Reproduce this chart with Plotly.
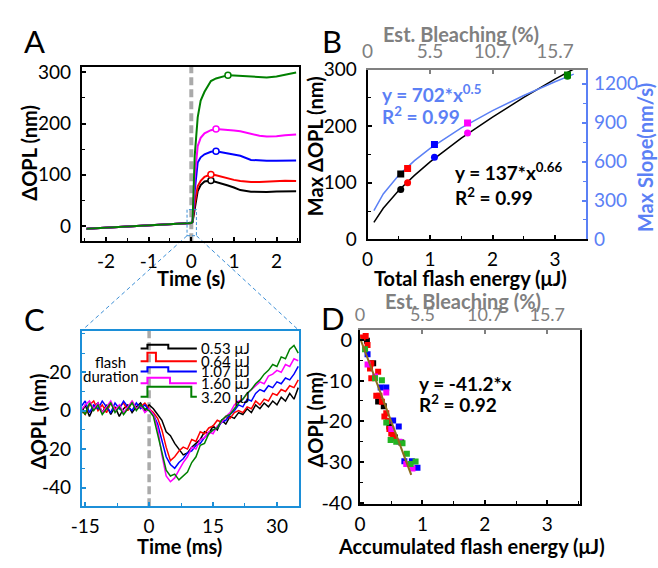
import plotly.graph_objects as go

W, H = 658, 568
FONT = "Lato"

# ---------------- colours of the five flashes ----------------
flash_labels = ["0.53 μJ", "0.64 μJ", "1.07 μJ", "1.60 μJ", "3.20 μJ"]
flash_colors = ["#000000", "#ff0000", "#0000ff", "#ff00ff", "#008000"]
d_colors = ["#000000", "#ff0000", "#0000ff", "#ff00ff", "#22b422"]
BLUE = "#5b80f5"
GRAY = "#808080"
FRAME = "#1c8fd8"

# ---------------- tick labels ----------------
a_xticks = [-2, -1, 0, 1, 2]
a_yticks = [0, 100, 200, 300]
b_xticks = [0, 1, 2, 3]
b_yticks = [0, 100, 200, 300]
b_y2ticks = [0, 300, 600, 900, 1200]
bleach_ticks = ["0", "5.5", "10.7", "15.7"]
c_xticks = [-15, 0, 15, 30]
c_yticks = [-40, -20, 0, 20]
d_xticks = [0, 1, 2, 3]
d_yticks = [-40, -30, -20, -10, 0]

# ---------------- Panel A data ----------------
t_a = [-2.46, -1.2, 0.0, 0.03, 0.08, 0.15, 0.22, 0.31, 0.46, 0.58, 0.7, 0.86, 1.0, 1.15, 1.4, 1.6, 1.77, 2.0, 2.2, 2.46]
a_black = [-5.6, -0.5, 5.6, 8, 37, 68, 80, 87, 88.7, 86, 84, 79, 75, 70, 67, 66, 66.5, 67.5, 68, 68]
a_red = [-5.6, -0.5, 5.6, 8, 43, 77.5, 88, 96, 100.7, 99, 96, 93, 90, 88, 86, 86, 87, 88, 88.5, 88]
a_blue = [-5.6, -0.5, 5.6, 8, 68, 124, 134, 140, 145, 146, 144, 141, 139, 137, 129, 128, 127.5, 127.5, 128, 128]
a_magenta = [-5.6, -0.5, 5.6, 8, 94, 156, 172, 181, 187, 189.5, 189, 187.5, 186.5, 185, 180, 176, 174.5, 175, 177, 178.8]
a_green = [-5.6, -0.5, 5.6, 8, 137, 212, 245, 262, 283, 288, 291, 294.5, 294, 293, 292, 291, 290, 292, 295, 299.6]
a_series = [a_black, a_red, a_blue, a_magenta, a_green]
peak_t = [0.46, 0.46, 0.58, 0.58, 0.86]
peak_v = [88.7, 100.7, 146, 189.5, 294.5]
zoom_box_t = [-0.1, 0.12]
zoom_box_v = [-19, 32]

# ---------------- Panel B data ----------------
energy = [0.53, 0.64, 1.07, 1.60, 3.20]
max_opl = [88, 100, 145, 188, 288]
max_slope = [504, 546, 732, 897, 1268]
fit_x = [0.1, 0.25, 0.5, 0.75, 1.0, 1.5, 2.0, 2.5, 3.0, 3.3]
fit_opl = [30, 55, 87, 113, 137, 179, 216, 251, 283, 301]
fit_slope = [222, 351, 496, 608, 702, 860, 993, 1110, 1216, 1275]

# ---------------- Panel C data ----------------
t_c = [-16, -15, -14, -13, -12, -11, -10, -9, -8, -7, -6, -5, -4, -3, -2, -1, 0, 1, 2, 3, 4, 5, 6, 7, 8, 9,
       10, 11, 12, 13, 14, 15, 16, 17, 18, 19, 20, 21, 22, 23, 24, 25, 26, 27, 28, 29, 30, 31, 32, 33, 34, 35]
c_black = [-2, 3, -3, 2, 4, -1, 3, -2, 2, -3, 1, 3, -1, 2, 4, 0, 3,
           1, -2, -5, -11, -13, -17, -20, -23, -22, -19, -17, -15, -11, -12, -8, -10, -5, -7, -3, -4,
           -1, -2, 1, -1, 3, 1, 4, 2, 5, 3, 7, 5, 9, 6, 12]
c_red = [1, -2, 3, 5, 0, 3, -1, 4, 1, 2, 4, 0, 5, 1, 2, 4, 1,
         -1, -4, -10, -19, -26, -24, -21, -19, -20, -15, -16, -11, -12, -9, -8, -5, -6, -3, -4, -1,
         0, -1, 2, 1, 5, 3, 6, 5, 9, 8, 11, 10, 13, 12, 16]
c_blue = [2, 5, -1, 3, 1, 5, 2, -1, 4, 1, 5, 2, 0, 4, 1, 3, 0,
          -2, -7, -15, -24, -28, -30, -27, -25, -22, -21, -18, -17, -14, -12, -10, -9, -6, -5, -2, 0,
          3, 2, 6, 5, 9, 11, 10, 13, 12, 15, 14, 17, 16, 19, 23]
c_magenta = [0, 3, 5, 1, 4, -1, 2, 5, 0, 3, -1, 2, 5, 1, 3, -1, 1,
             -2, -9, -23, -34, -37, -35, -31, -27, -24, -19, -20, -15, -14, -11, -12, -8, -6, -3, -1, 3,
             5, 6, 9, 11, 13, 15, 14, 18, 19, 21, 20, 24, 23, 27, 26]
c_green = [1, -2, 4, 0, 3, -2, 1, 4, -1, 2, -2, 1, 4, 0, 3, 1, 0,
           -3, -12, -22, -31, -34, -33, -36, -34, -32, -27, -24, -18, -17, -12, -10, -9, -5, -3, -2, 1,
           4, 6, 9, 11, 14, 16, 19, 21, 24, 23, 28, 27, 32, 34, 30]
c_series = [c_black, c_red, c_blue, c_magenta, c_green]
# flash-duration legend glyphs (ms, nm)
pulse_left = [-2, -2, -2, -2, -2]
pulse_on = [-0.4, -0.4, -0.4, -0.4, -0.4]
pulse_off = [4.5, 1.6, 4.5, 4.9, 9.9]
pulse_right = [11.2, 11.2, 11.2, 11.2, 11.2]
pulse_base = [32.4, 25.7, 20.4, 14.3, 7.2]
pulse_top = [34.3, 30.1, 22.6, 17.2, 12.4]

# ---------------- Panel D data ----------------
d_x = [
    [0.11, 0.21, 0.29, 0.38, 0.47, 0.56, 0.66],
    [0.04, 0.09, 0.12, 0.18, 0.16, 0.18, 0.29, 0.26, 0.31, 0.35, 0.39, 0.42, 0.45, 0.47, 0.50, 0.53, 0.55],
    [0.12, 0.33, 0.42, 0.53, 0.62, 0.71, 0.83, 0.92],
    [0.12, 0.24, 0.42, 0.50, 0.63, 0.74, 0.84],
    [0.08, 0.24, 0.35, 0.42, 0.49, 0.58, 0.68, 0.75, 0.81, 0.89],
]
d_y = [
    [-0.2, -5.7, -15.1, -16.3, -21.3, -24.0, -25.2],
    [0.6, 1.0, -1.2, -5.7, -7.0, -9.4, -7.8, -13.7, -13.7, -15.2, -18.8, -18.0, -19.9, -21.9, -23.0, -23.4, -24.2],
    [-3.5, -11.7, -11.7, -19.8, -21.3, -29.8, -29.8, -31.4],
    [-6.0, -9.0, -12.9, -21.9, -25.0, -30.5, -31.6],
    [-2.3, -9.4, -9.9, -20.3, -24.6, -25.0, -25.4, -28.0, -30.5, -29.9],
]
d_fit_x = [0, 0.82]
d_fit_y = [0.5, -33.2]

# ---------------- layout geometry (pixels -> paper) ----------------
def dom_x(a, b):
    return [a / W, b / W]

def dom_y(top, bottom):
    return [1 - bottom / H, 1 - top / H]

A_x, A_y = dom_x(72, 293), dom_y(57, 239)
B_x, B_y = dom_x(362.7, 585), dom_y(60, 237)
C_x, C_y = dom_x(72, 293), dom_y(332, 515)
D_x, D_y = dom_x(355, 579), dom_y(331.7, 513)

A_xr, A_yr = [-2.57, 2.53], [-30, 311]
B_xr, B_yr, B_y2r = [0, 3.5], [0, 300], [0, 1310]
C_xr, C_yr = [-15.8, 35.2], [-49.7, 41.7]
D_xr, D_yr = [0, 3.53], [-40.4, 2.4]

fig = go.Figure()

# Panel A
for s, c in zip(a_series, flash_colors):
    fig.add_trace(go.Scatter(x=t_a, y=s, mode="lines", line=dict(color=c, width=2),
                             xaxis="x", yaxis="y", showlegend=False, hoverinfo="skip"))
for tt, vv, c in zip(peak_t, peak_v, flash_colors):
    fig.add_trace(go.Scatter(x=[tt], y=[vv], mode="markers",
                             marker=dict(symbol="circle", size=6, color="white", line=dict(color=c, width=1.5)),
                             xaxis="x", yaxis="y", showlegend=False, hoverinfo="skip"))

# Panel B
fig.add_trace(go.Scatter(x=fit_x, y=fit_slope, mode="lines", line=dict(color=BLUE, width=1.5),
                         xaxis="x2", yaxis="y3", showlegend=False, hoverinfo="skip"))
fig.add_trace(go.Scatter(x=fit_x, y=fit_opl, mode="lines", line=dict(color="black", width=1.5),
                         xaxis="x2", yaxis="y2", showlegend=False, hoverinfo="skip"))
fig.add_trace(go.Scatter(x=energy, y=max_slope, mode="markers",
                         marker=dict(symbol="square", size=7, color=flash_colors),
                         xaxis="x2", yaxis="y3", showlegend=False, hoverinfo="skip"))
fig.add_trace(go.Scatter(x=energy, y=max_opl, mode="markers",
                         marker=dict(symbol="circle", size=7, color=flash_colors),
                         xaxis="x2", yaxis="y2", showlegend=False, hoverinfo="skip"))
fig.add_trace(go.Scatter(x=[None], y=[None], xaxis="x3", yaxis="y2", showlegend=False, hoverinfo="skip"))

# Panel C
for s, c in zip(c_series, flash_colors):
    fig.add_trace(go.Scatter(x=t_c, y=s, mode="lines", line=dict(color=c, width=1.5),
                             xaxis="x4", yaxis="y4", showlegend=False, hoverinfo="skip"))
for i, c in enumerate(flash_colors):
    fig.add_trace(go.Scatter(
        x=[pulse_left[i], pulse_on[i], pulse_on[i], pulse_off[i], pulse_off[i], pulse_right[i]],
        y=[pulse_base[i], pulse_base[i], pulse_top[i], pulse_top[i], pulse_base[i], pulse_base[i]],
        mode="lines", line=dict(color=c, width=2), xaxis="x4", yaxis="y4",
        showlegend=False, hoverinfo="skip"))

# Panel D
for xs, ys, c in zip(d_x, d_y, d_colors):
    fig.add_trace(go.Scatter(x=xs, y=ys, mode="markers", marker=dict(symbol="square", size=6, color=c),
                             xaxis="x5", yaxis="y5", showlegend=False, hoverinfo="skip"))
fig.add_trace(go.Scatter(x=d_fit_x, y=d_fit_y, mode="lines", line=dict(color="#8c6d1c", width=2),
                         xaxis="x5", yaxis="y5", showlegend=False, hoverinfo="skip"))
fig.add_trace(go.Scatter(x=[None], y=[None], xaxis="x6", yaxis="y5", showlegend=False, hoverinfo="skip"))

tickfont = dict(family=FONT, size=19, color="black")


def txt(vals):
    return [str(v) for v in vals]


def ax(ticks_list, minor_dtick=None, minor_color="black", **kw):
    base = dict(showgrid=False, zeroline=False, showline=True, linecolor="black", linewidth=2,
                ticks="inside", ticklen=4, tickwidth=1.5, tickcolor="black", tickfont=tickfont,
                fixedrange=True, tickmode="array", tickvals=ticks_list, ticktext=txt(ticks_list))
    if minor_dtick is not None:
        base["minor"] = dict(tickmode="linear", tick0=0, dtick=minor_dtick, ticks="inside",
                             ticklen=3, tickwidth=1, tickcolor=minor_color)
    base.update(kw)
    return base


fig.update_layout(
    width=W, height=H, autosize=False, margin=dict(l=0, r=0, t=0, b=0),
    paper_bgcolor="white", plot_bgcolor="rgba(0,0,0,0)", showlegend=False,
    font=dict(family=FONT, color="black"),
    xaxis=ax(a_xticks, 0.5, domain=A_x, anchor="y", range=A_xr, mirror=True, ticklabelstandoff=2),
    yaxis=ax(a_yticks, 50, domain=A_y, anchor="x", range=A_yr, mirror=True, ticklabelstandoff=5),
    xaxis2=ax(b_xticks, 0.5, domain=B_x, anchor="y2", range=B_xr, ticklabelstandoff=2),
    yaxis2=ax(b_yticks, 50, domain=B_y, anchor="x2", range=B_yr, ticklabelstandoff=5),
    xaxis3=ax(b_xticks, None, domain=B_x, anchor="y2", overlaying="x2", side="top", range=B_xr,
              ticktext=bleach_ticks, linecolor=GRAY, tickcolor=GRAY,
              tickfont=dict(family=FONT, size=19, color=GRAY), ticklabelstandoff=2),
    yaxis3=ax(b_y2ticks, 150, BLUE, domain=B_y, anchor="x2", overlaying="y2", side="right", range=B_y2r,
              linecolor=BLUE, tickcolor=BLUE, tickfont=dict(family=FONT, size=19, color=BLUE),
              ticklabelstandoff=2),
    xaxis4=ax(c_xticks, 7.5, FRAME, domain=C_x, anchor="y4", range=C_xr, mirror=True,
              linecolor=FRAME, tickcolor=FRAME, ticklabelstandoff=2),
    yaxis4=ax(c_yticks, 10, FRAME, domain=C_y, anchor="x4", range=C_yr, mirror=True,
              linecolor=FRAME, tickcolor=FRAME, ticklabelstandoff=5),
    xaxis5=ax(d_xticks, 0.5, domain=D_x, anchor="y5", range=D_xr, ticklabelstandoff=2),
    yaxis5=ax(d_yticks, 5, domain=D_y, anchor="x5", range=D_yr, mirror=True, ticklabelstandoff=2,
              tickfont=dict(family=FONT, size=20, color="black")),
    xaxis6=ax(d_xticks, None, domain=D_x, anchor="y5", overlaying="x5", side="top", range=D_xr,
              ticktext=bleach_ticks, linecolor=GRAY, tickcolor=GRAY,
              tickfont=dict(family=FONT, size=18, color=GRAY), ticklabelstandoff=0),
)


def to_paper(v, rng, dom):
    return dom[0] + (v - rng[0]) / (rng[1] - rng[0]) * (dom[1] - dom[0])


shapes = []
shapes.append(dict(type="line", xref="x", yref="y domain", x0=0, x1=0, y0=0, y1=1, layer="below",
                   line=dict(color="#aaaaaa", width=4, dash="8px,4px")))
shapes.append(dict(type="line", xref="x4", yref="y4 domain", x0=0, x1=0, y0=0, y1=1, layer="below",
                   line=dict(color="#aaaaaa", width=3.5, dash="8px,4px")))
shapes.append(dict(type="rect", xref="x", yref="y", x0=zoom_box_t[0], x1=zoom_box_t[1],
                   y0=zoom_box_v[0], y1=zoom_box_v[1], line=dict(color="#3d8fd6", width=1, dash="3px,2px")))
bx0 = to_paper(zoom_box_t[0], A_xr, A_x)
bx1 = to_paper(zoom_box_t[1], A_xr, A_x)
by0 = to_paper(zoom_box_v[0], A_yr, A_y)
shapes.append(dict(type="line", xref="paper", yref="paper", x0=bx0, y0=by0, x1=C_x[0], y1=C_y[1],
                   layer="below", line=dict(color="#3d8fd6", width=1, dash="4px,3px")))
shapes.append(dict(type="line", xref="paper", yref="paper", x0=bx1, y0=by0, x1=C_x[1], y1=C_y[1],
                   layer="below", line=dict(color="#3d8fd6", width=1, dash="4px,3px")))
fig.update_layout(shapes=shapes)

ann = []


def label(text, px, py, size=20, color="black", angle=0, xanchor="center", bold=True):
    ann.append(dict(text=f"<b>{text}</b>" if bold else text, x=px / W, y=1 - py / H, xref="paper", yref="paper",
                    showarrow=False, textangle=angle, xanchor=xanchor, yanchor="middle",
                    font=dict(family=FONT, size=size, color=color)))


for letter, px, py in [("A", 24, 30), ("B", 326, 30), ("C", 24, 320), ("D", 327, 319)]:
    label(letter, px, py, size=31, bold=False)

label("ΔOPL (nm)", 18, 147, angle=-90)
label("Time (s)", 183, 277)
label("Max ΔOPL (nm)", 310, 140, angle=-90)
label("Max Slope(nm/s)", 645, 152, angle=-90, color=BLUE)
label("Est. Bleaching (%)", 458, 23, color=GRAY)
label("Total flash energy (μJ)", 467, 277)
label("ΔOPL (nm)", 27, 427, angle=-90)
label("Time (ms)", 171, 557)
label("ΔOPL (nm)", 309, 425, angle=-90)
label("Est. Bleaching (%)", 460, 301, color=GRAY)
label("Accumulated flash energy (μJ)", 468, 557)

label("y = 702*x<sup>0.5</sup>", 375, 85, size=19, color=BLUE, xanchor="left")
label("R<sup>2</sup> = 0.99", 375, 108, size=19, color=BLUE, xanchor="left")
label("y = 137*x<sup>0.66</sup>", 450, 166, size=19, xanchor="left")
label("R<sup>2</sup> = 0.99", 450, 192, size=19, xanchor="left")
label("y = -41.2*x", 413, 387, size=19, xanchor="left")
label("R<sup>2</sup> = 0.92", 413, 408, size=19, xanchor="left")

fig.update_layout(annotations=ann)

for i, t in enumerate(flash_labels):
    fig.add_annotation(text=t, x=pulse_right[i] + 0.6, y=pulse_base[i], xref="x4", yref="y4",
                       showarrow=False, xanchor="left", yanchor="middle",
                       font=dict(family=FONT, size=15, color="black"))
fig.add_annotation(text="flash", x=-9, y=25.3, xref="x4", yref="y4", showarrow=False,
                   font=dict(family=FONT, size=15, color="black"))
fig.add_annotation(text="duration", x=-9, y=18, xref="x4", yref="y4", showarrow=False,
                   font=dict(family=FONT, size=15, color="black"))

fig.write_html("out.html", config={"displayModeBar": False},
               post_script="document.body.style.margin='0px';document.body.style.overflow='hidden';")
